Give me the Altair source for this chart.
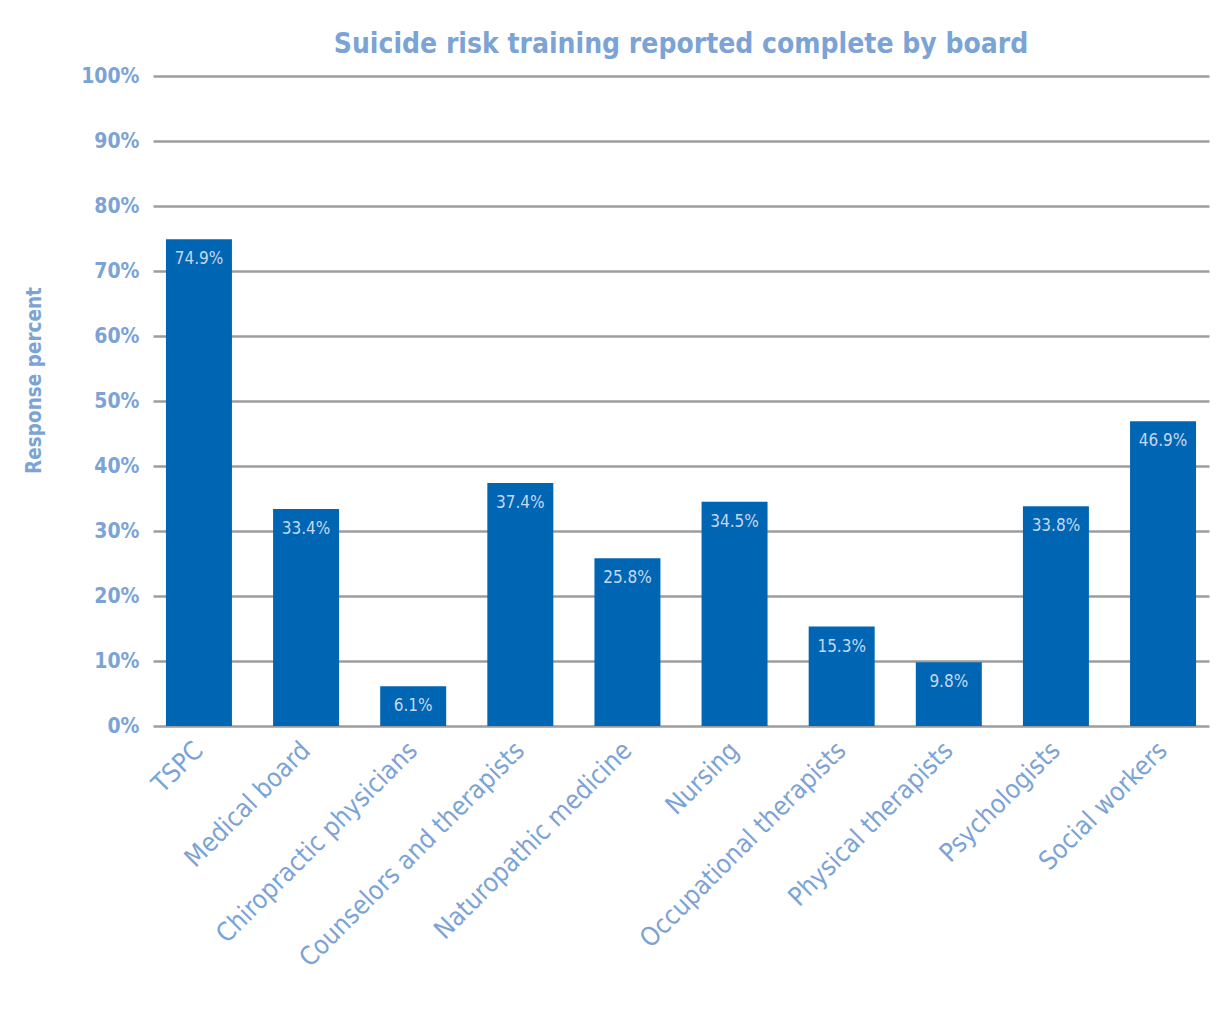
import altair as alt
import pandas as pd

boards = ["TSPC", "Medical board", "Chiropractic physicians", "Counselors and therapists",
          "Naturopathic medicine", "Nursing", "Occupational therapists", "Physical therapists",
          "Psychologists", "Social workers"]
values = [74.9, 33.4, 6.1, 37.4, 25.8, 34.5, 15.3, 9.8, 33.8, 46.9]
labels = ["74.9%", "33.4%", "6.1%", "37.4%", "25.8%", "34.5%", "15.3%", "9.8%", "33.8%", "46.9%"]
y_ticks = [0, 10, 20, 30, 40, 50, 60, 70, 80, 90, 100]

df = pd.DataFrame({"board": boards, "value": values, "label": labels})

FONT = "'DejaVu Sans Condensed', Roboto"
LIGHT = "#7ba3d6"

x_enc = alt.X("board:N", sort=boards, title=None,
              scale=alt.Scale(paddingInner=0.384, paddingOuter=0.121),
              axis=alt.Axis(labelAngle=-45, labelAlign="right", labelBaseline="middle",
                            labelFont=FONT, labelFontSize=26, labelColor=LIGHT,
                            labelFontWeight="normal", labelPadding=20, ticks=False,
                            domain=False, labelOverlap=False, labelLimit=0))
y_enc = alt.Y("value:Q", title="Response percent",
              scale=alt.Scale(domain=[0, 100], nice=False),
              axis=alt.Axis(values=y_ticks, labelExpr="datum.value + '%'",
                            labelFont=FONT, labelFontSize=21, labelFontWeight="bold",
                            labelColor=LIGHT, labelPadding=14, ticks=False, domain=False,
                            grid=True, gridColor="#9d9d9f", gridWidth=2.5,
                            titleFont=FONT, titleFontSize=20.5, titleFontWeight="bold",
                            titleColor=LIGHT, titleX=-119, titleY=304, titleAngle=270,
                            titleAlign="center", titleBaseline="middle"))

bars = alt.Chart(df).mark_bar(color="#0066b3").encode(x=x_enc, y=y_enc)
text = alt.Chart(df).mark_text(baseline="middle", dy=20, font=FONT, fontSize=17,
                               color="#c6d7ef").encode(
    x=alt.X("board:N", sort=boards), y="value:Q", text="label:N")

chart = alt.layer(bars, text).properties(
    width=1056, height=650,
    title=alt.TitleParams("Suicide risk training reported complete by board",
                          font=FONT, fontSize=28, fontWeight="bold", color=LIGHT,
                          anchor="middle", offset=6),
    autosize=alt.AutoSizeParams(type="none"),
    padding={"left": 145, "top": 68, "right": 8, "bottom": 290},
    background="white",
).configure_view(stroke=None)

chart.save("out.html", embed_options={"renderer": "svg", "actions": False})
